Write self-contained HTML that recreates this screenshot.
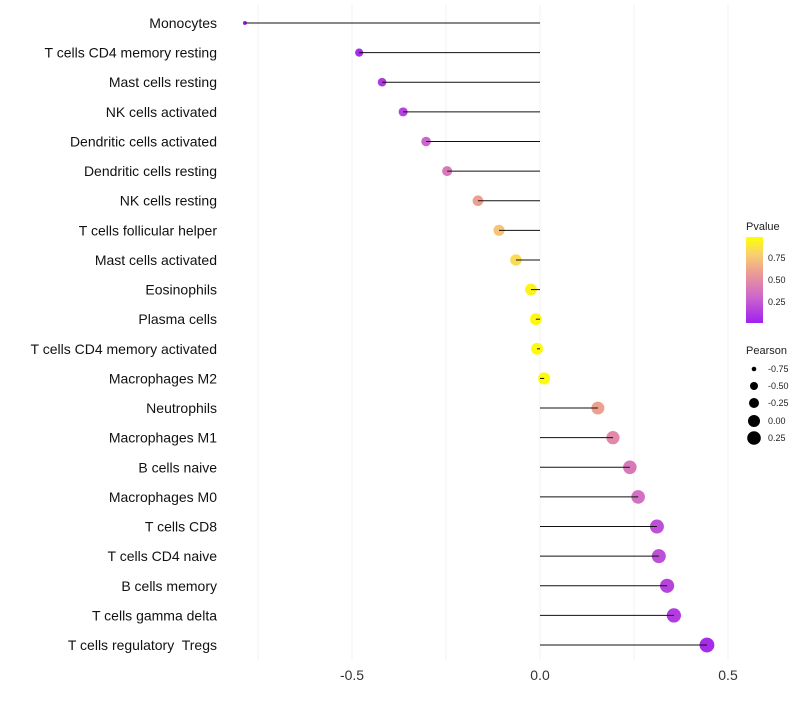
<!DOCTYPE html>
<html><head><meta charset="utf-8"><style>
body{margin:0;background:#fff;}
svg text{font-family:"Liberation Sans",sans-serif;white-space:pre;}
</style></head><body>
<svg id="chart" width="800" height="700" xmlns="http://www.w3.org/2000/svg">
<defs><linearGradient id="pg" x1="0" y1="1" x2="0" y2="0">
<stop offset="0" stop-color="#A020F0"/><stop offset="0.3" stop-color="#CC66CC"/><stop offset="0.6" stop-color="#EEA090"/><stop offset="0.8" stop-color="#F8D070"/><stop offset="1" stop-color="#FFFF00"/>
</linearGradient></defs>
<g id="grid"></g><g id="marks"></g><g id="labels"></g>
<g>
<text x="746" y="230" font-size="11" fill="#222">Pvalue</text>
<rect x="746" y="237" width="17" height="86" fill="url(#pg)"/>
<text x="768" y="261" font-size="9" fill="#222">0.75</text>
<text x="768" y="283" font-size="9" fill="#222">0.50</text>
<text x="768" y="305" font-size="9" fill="#222">0.25</text>
</g>
<g>
<text x="746" y="354" font-size="11" fill="#222">Pearson</text>
<circle cx="754" cy="369" r="2.3" fill="#000"/><text x="768" y="372" font-size="9" fill="#222">-0.75</text>
<circle cx="754" cy="386" r="4" fill="#000"/><text x="768" y="389" font-size="9" fill="#222">-0.50</text>
<circle cx="754" cy="403" r="5" fill="#000"/><text x="768" y="406" font-size="9" fill="#222">-0.25</text>
<circle cx="754" cy="421" r="6" fill="#000"/><text x="768" y="424" font-size="9" fill="#222">0.00</text>
<circle cx="754" cy="438" r="6.8" fill="#000"/><text x="768" y="441" font-size="9" fill="#222">0.25</text>
</g>
</svg>
<script>
const categories=["Monocytes","T cells CD4 memory resting","Mast cells resting","NK cells activated","Dendritic cells activated","Dendritic cells resting","NK cells resting","T cells follicular helper","Mast cells activated","Eosinophils","Plasma cells","T cells CD4 memory activated","Macrophages M2","Neutrophils","Macrophages M1","B cells naive","Macrophages M0","T cells CD8","T cells CD4 naive","B cells memory","T cells gamma delta","T cells regulatory  Tregs"];
const pearson=[-0.785,-0.481,-0.42,-0.364,-0.303,-0.247,-0.165,-0.109,-0.064,-0.024,-0.011,-0.008,0.011,0.154,0.194,0.239,0.261,0.311,0.316,0.338,0.356,0.444];
const pvalues=[0.0,0.05,0.1,0.15,0.3,0.4,0.6,0.75,0.85,0.95,0.97,0.98,0.98,0.6,0.48,0.4,0.35,0.2,0.2,0.15,0.12,0.05];
const ticks=[-0.5,0.0,0.5];
const grids=[-0.75,-0.5,-0.25,0,0.25,0.5];
const NS="http://www.w3.org/2000/svg";
const xS=v=>540+v*376;
const yS=i=>23+i*29.62;
function rS(v){const pv=[-0.8,-0.75,-0.5,-0.25,0,0.25,0.5],pr=[1.8,2.3,4,5,6,6.8,7.6];
for(let k=1;k<pv.length;k++){if(v<=pv[k]){const t=(v-pv[k-1])/(pv[k]-pv[k-1]);return pr[k-1]+(pr[k]-pr[k-1])*t;}}return 7.6;}
function lerp(a,b,t){return Math.round(a+(b-a)*t);}
const stops=[[0,[160,32,240]],[0.3,[204,102,204]],[0.6,[238,160,144]],[0.8,[248,208,112]],[1,[255,255,0]]];
function col(p){for(let k=1;k<stops.length;k++){if(p<=stops[k][0]){const a=stops[k-1],b=stops[k];const t=(p-a[0])/(b[0]-a[0]);return `rgb(${lerp(a[1][0],b[1][0],t)},${lerp(a[1][1],b[1][1],t)},${lerp(a[1][2],b[1][2],t)})`;}}return "rgb(255,255,0)";}
function mk(t,a,p){const e=document.createElementNS(NS,t);for(const k in a)e.setAttribute(k,a[k]);p.appendChild(e);return e;}
const G=document.getElementById('grid'),M=document.getElementById('marks'),L=document.getElementById('labels');
grids.forEach(g=>{const l=mk('line',{x1:xS(g),x2:xS(g),y1:5,y2:660,stroke:'#f0f0f0','stroke-width':1},G);

});
ticks.forEach(t=>{const e=mk('text',{x:xS(t),y:680,'font-size':14,fill:'#333','text-anchor':'middle'},L);e.textContent=t.toFixed(1);

});
categories.forEach((c,i)=>{const y=yS(i);
const t=mk('text',{x:217,y:y+5,'font-size':14,fill:'#111','text-anchor':'end'},L);t.textContent=c;


const d=mk('circle',{cx:xS(pearson[i]),cy:y,r:rS(pearson[i]),fill:col(pvalues[i])},M);


const s=mk('line',{x1:xS(0),x2:xS(pearson[i]),y1:y,y2:y,stroke:'#111','stroke-width':1},M);


});
</script>
</body></html>
